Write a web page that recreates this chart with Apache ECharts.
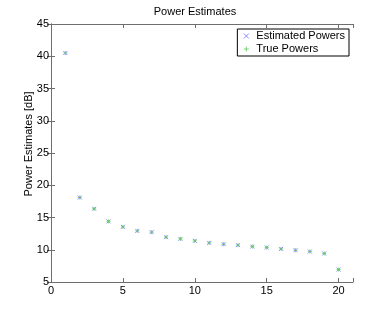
<!DOCTYPE html>
<html><head><meta charset="utf-8">
<script src="https://cdn.jsdelivr.net/npm/echarts@6/dist/echarts.min.js"></script>
<style>html,body{margin:0;padding:0;background:#fff}#c{width:390px;height:318px}</style>
</head><body><div id="c"></div>
<script>
const xValues = [1,2,3,4,5,6,7,8,9,10,11,12,13,14,15,16,17,18,19,20];
const estimatedPowers = [40.5,18.1,16.35,14.4,13.55,12.93,12.73,11.95,11.69,11.38,11.07,10.86,10.71,10.5,10.35,10.13,9.93,9.73,9.42,6.93];
const truePowers = [40.5,18.1,16.35,14.4,13.55,12.93,12.73,11.95,11.69,11.38,11.07,10.86,10.71,10.5,10.35,10.13,9.93,9.73,9.42,6.93];
const xTicks = [0,5,10,15,20];
const yTicks = [5,10,15,20,25,30,35,40,45];

const font = 'Liberation Sans, Arial, sans-serif';
const crossPath = 'path://M0,0L10,10M10,0L0,10';
const plusPath = 'path://M5,0L5,10M0,5L10,5';
const axisLine = {show:true, lineStyle:{color:'#6e6e6e', width:1}};
const tick = {show:true, inside:true, length:4, lineStyle:{color:'#6e6e6e'}};

const chart = echarts.init(document.getElementById('c'), null, {renderer:'canvas'});
chart.setOption({
  animation:false,
  title:{text:'Power Estimates', left:'center', top:1,
    textStyle:{fontFamily:font, fontSize:11, fontWeight:'normal', color:'#000'}},
  grid:{left:51, right:37, top:24, bottom:36},
  legend:{
    right:41, top:29, orient:'vertical', itemWidth:10, itemHeight:5, itemGap:1,
    padding:[1,4,1,4], borderColor:'#000', borderWidth:1, backgroundColor:'#fff',
    textStyle:{fontFamily:font, fontSize:11, lineHeight:12, color:'#000'},
    data:[{name:'Estimated Powers', icon:crossPath, itemStyle:{color:'none', borderColor:'#6f6fff', borderWidth:1}},
          {name:'True Powers', icon:plusPath, itemStyle:{color:'none', borderColor:'#5fc85f', borderWidth:1}}]
  },
  xAxis:[
    {type:'value', min:0, max:21, interval:5, position:'bottom',
     axisLine:axisLine, axisTick:tick, splitLine:{show:false},
     axisLabel:{fontFamily:font, fontSize:11, color:'#000', margin:3,
       formatter:v=>xTicks.includes(v)?String(v):''}},
    {type:'value', min:0, max:21, interval:5, position:'top',
     axisLine:axisLine, axisTick:tick, splitLine:{show:false}, axisLabel:{show:false}}
  ],
  yAxis:[
    {type:'value', min:5, max:45, interval:5, position:'left',
     name:'Power Estimates [dB]', nameLocation:'middle', nameGap:17, nameMoveOverlap:false,
     nameTextStyle:{fontFamily:font, fontSize:11, color:'#000', padding:[0,0,0,18]},
     axisLine:axisLine, axisTick:tick, splitLine:{show:false},
     axisLabel:{fontFamily:font, fontSize:11, color:'#000', margin:2,
       formatter:v=>yTicks.includes(v)?String(v):''}},
    {type:'value', min:5, max:45, interval:5, position:'right',
     axisLine:axisLine, axisTick:tick, splitLine:{show:false}, axisLabel:{show:false}}
  ],
  series:[
    {name:'Estimated Powers', type:'scatter', symbol:crossPath, symbolSize:4,
     itemStyle:{color:'none', borderColor:'#6f6fff', borderWidth:1},
     data:xValues.map((x,i)=>[x, estimatedPowers[i]])},
    {name:'True Powers', type:'scatter', symbol:plusPath, symbolSize:4,
     itemStyle:{color:'none', borderColor:'#5fc85f', borderWidth:1},
     data:xValues.map((x,i)=>[x, truePowers[i]])}
  ]
});
</script></body></html>
